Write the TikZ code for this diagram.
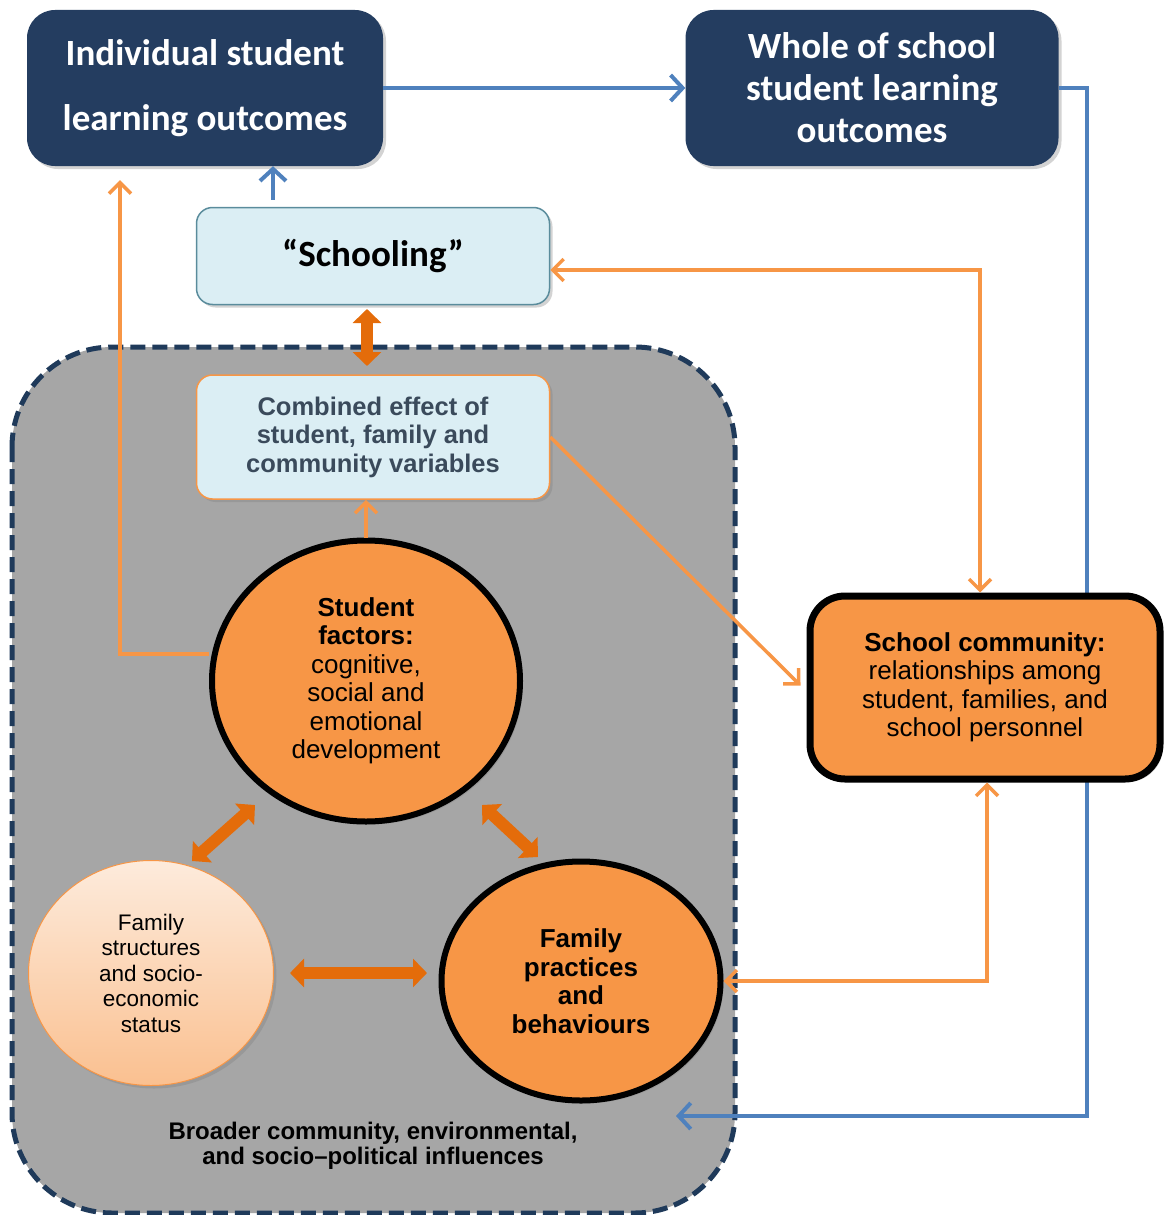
\documentclass[tikz,border=0pt]{standalone}
\usepackage{fontspec}
\setmainfont{Liberation Sans}
\newfontfamily\carl{Carlito}
\usetikzlibrary{arrows.meta,shapes.geometric,shadows}
\definecolor{navy}{HTML}{243D60}
\definecolor{bluel}{HTML}{4F81BD}
\definecolor{orl}{HTML}{F79646}
\definecolor{ord}{HTML}{E46C0A}
\definecolor{lblue}{HTML}{DBEEF4}
\definecolor{teal}{HTML}{5A8C9C}
\definecolor{regiongray}{HTML}{A6A6A6}
\definecolor{dashnavy}{HTML}{1F3A5A}
\definecolor{combtext}{HTML}{3A4A5B}
\definecolor{peachtop}{HTML}{FDEBDC}
\definecolor{peachbot}{HTML}{FAC090}
\begin{document}
\begin{tikzpicture}[x=1pt,y=-1pt,
  shad/.style={drop shadow={opacity=0.35,shadow xshift=3pt,shadow yshift=-3pt}},
  navybox/.style={fill=navy,rounded corners=28pt,text=white,align=center,shad,
    font=\carl\bfseries\fontsize{37}{42}\selectfont},
  lbbox/.style={fill=lblue,rounded corners=16pt,align=center,shad},
  bigcirc/.style={ellipse,fill=orl,draw=black,line width=6pt,align=center,shad,
    font=\fontsize{26}{28.5}\selectfont},
  bluearrow/.style={draw=bluel,line width=4pt,-{Straight Barb[length=12pt,width=26pt]}},
  orline/.style={draw=orl,line width=3.5pt},
  obarb/.tip={Straight Barb[length=11pt,width=22pt]},
  thickarr/.style={draw=ord,line width=12pt,{Triangle[length=14pt,width=28pt]}-{Triangle[length=14pt,width=28pt]}}
]
\useasboundingbox (0,0) rectangle (1163,1215);

% region
\draw[fill=regiongray,draw=dashnavy,line width=5pt,dash pattern=on 15pt off 7pt,rounded corners=100pt]
  (12,347) rectangle (735,1213);
\node[font=\bfseries\fontsize{24}{25.5}\selectfont,align=center] (broad) at (373,1146)
  {Broader community, environmental,\\and socio--political influences};

% top boxes
\node[navybox,minimum width=356pt,minimum height=156pt,font=\carl\bfseries\fontsize{37}{65}\selectfont] (ind) at (205,88)
  {\raisebox{-4pt}{Individual student}\\\raisebox{-4pt}{learning outcomes}};
\node[navybox,minimum width=373pt,minimum height=156pt] (whole) at (872,88)
  {Whole of school\\student learning\\outcomes};

\node[lbbox,draw=teal,line width=1.5pt,minimum width=353pt,minimum height=97pt,
  font=\carl\bfseries\fontsize{37}{42}\selectfont] (sch) at (373,256) {“Schooling”};
\node[lbbox,draw=orl,line width=1.5pt,minimum width=353pt,minimum height=124pt,text=combtext,
  font=\bfseries\fontsize{25.5}{28.5}\selectfont] (comb) at (373,437)
  {Combined effect of\\student, family and\\community variables};

% blue connectors (behind school community box)
\coordinate (infl) at (676,1116);
\draw[bluearrow] (ind.east) -- (whole.west);
\draw[bluearrow] (whole.east) -- (1087,88) -- (1087,1116) -- (infl);
\draw[bluearrow] ([xshift=-100pt,yshift=7pt]sch.north) -- ([xshift=-100pt]sch.north |- ind.south);

% school community
\node[fill=orl,draw=black,line width=7pt,rounded corners=35pt,minimum width=350pt,minimum height=183pt,
  align=center,shad,font=\fontsize{26}{28.5}\selectfont] (sc) at (985,687.5)
  {\textbf{School community:}\\relationships among\\student, families, and\\school personnel};

% circles
\node[bigcirc,minimum width=308pt,minimum height=281pt] (stu) at (366,681)
  {\textbf{Student}\\\textbf{factors:}\\cognitive,\\social and\\emotional\\development};
\node[ellipse,top color=peachtop,bottom color=peachbot,draw=orl,line width=1pt,
  minimum width=245pt,minimum height=225pt,align=center,shad,
  font=\fontsize{22.5}{25.5}\selectfont] (fs) at (151,973)
  {Family\\structures\\and socio-\\economic\\status};
\node[bigcirc,minimum width=279pt,minimum height=239pt,font=\bfseries\fontsize{26}{28.5}\selectfont] (fp) at (581,981)
  {Family\\practices\\and\\behaviours};

% thin orange connectors
\draw[orline,obarb-obarb] ([yshift=-14pt]sch.east) -| ([xshift=-5pt]sc.north);
\draw[orline,-obarb] (stu.north) -- (stu.north |- comb.south);
\draw[orline,-obarb] (comb.east) -- ([xshift=-6pt,yshift=2pt]sc.west);
\draw[orline,-obarb,shorten >=14pt] ([yshift=27pt]stu.west) -| ([xshift=-85pt]ind.south);
\draw[orline,obarb-obarb] ([xshift=2pt]sc.south) |- (fp.east);

% thick double arrows
\coordinate (a1) at (367,309);
\coordinate (a2) at (367,366);
\draw[thickarr] (a1) -- (a2);
\coordinate (b1) at (192,861);
\coordinate (b2) at (255,805);
\draw[thickarr] (b1) -- (b2);
\coordinate (c1) at (482,805);
\coordinate (c2) at (538,857);
\draw[thickarr] (c1) -- (c2);
\coordinate (d1) at (290,973);
\coordinate (d2) at (427,973);
\draw[thickarr] (d1) -- (d2);
\end{tikzpicture}
\end{document}
